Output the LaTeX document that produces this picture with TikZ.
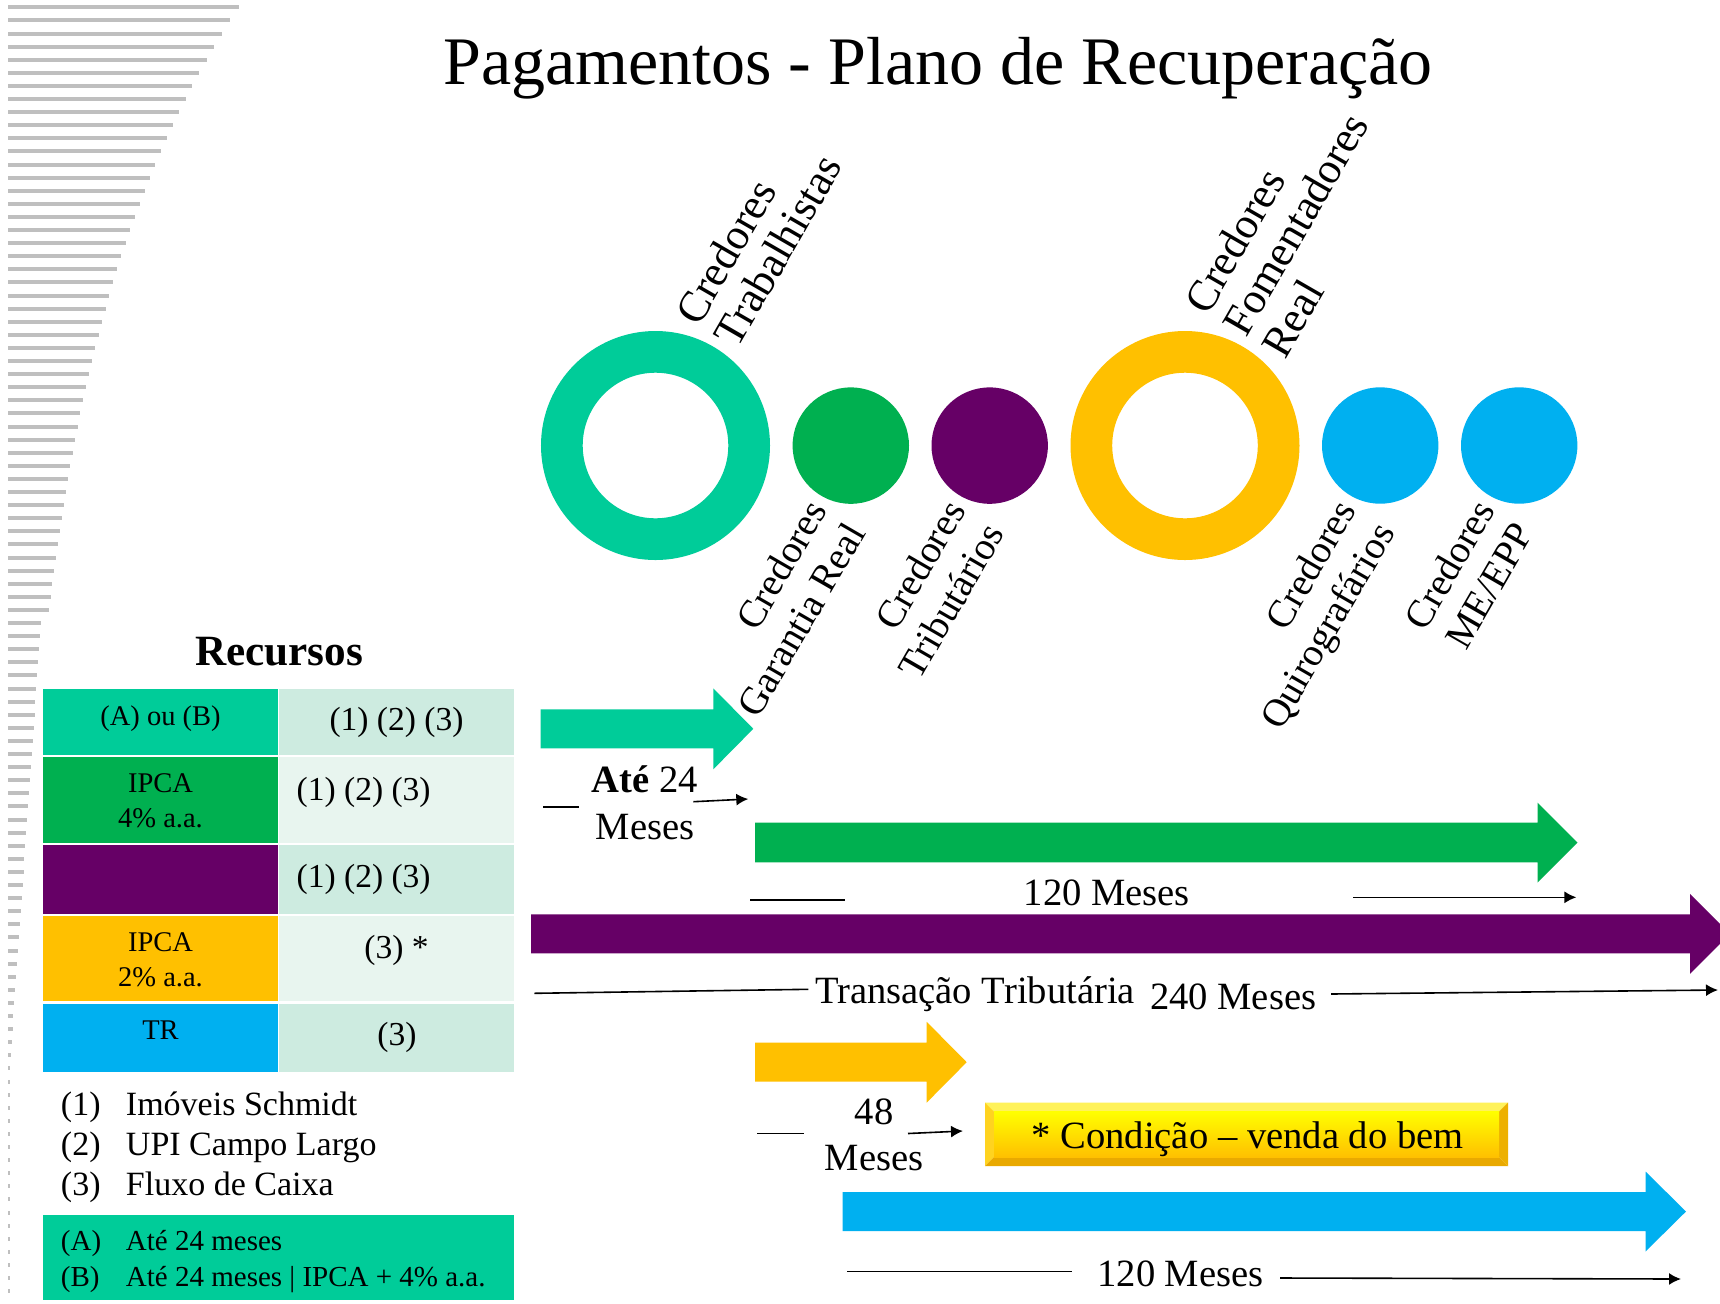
\documentclass[tikz,border=0pt]{standalone}
\usepackage{fontspec}
\setmainfont{Liberation Serif}
\usetikzlibrary{arrows.meta}
\definecolor{cteal}{HTML}{00CC99}
\definecolor{cgreen}{HTML}{00B050}
\definecolor{cpurple}{HTML}{660066}
\definecolor{cyellow}{HTML}{FFC000}
\definecolor{cblue}{HTML}{00B0F0}
\definecolor{cellA}{HTML}{CDEBE0}
\definecolor{cellB}{HTML}{E8F5EF}
\definecolor{stripegray}{HTML}{BFBFBF}
\definecolor{bevtop}{HTML}{FFF25A}
\definecolor{bevleft}{HTML}{FFD320}
\definecolor{bevright}{HTML}{EDB000}
\definecolor{bevbot}{HTML}{E9A900}
\newcommand{\myblockarrow}[7]{% color, x0, tip, yc, half body, half head, head length
  \fill[#1] (#2,{#4-#5}) -- ({#3-#7},{#4-#5}) -- ({#3-#7},{#4-#6}) -- (#3,#4)
    -- ({#3-#7},{#4+#6}) -- ({#3-#7},{#4+#5}) -- (#2,{#4+#5}) -- cycle;}
\begin{document}
\begin{tikzpicture}[x=0.5pt,y=-0.5pt,
  every node/.style={inner sep=0pt, outer sep=0pt},
  titletext/.style={font=\fontsize{34}{40}\selectfont},
  credlbl/.style={font=\fontsize{19.5}{22.3}\selectfont, rotate=60},
  credlblup/.style={font=\fontsize{21.8}{22.3}\selectfont, rotate=60},
  ringnode/.style={circle, minimum size=93.65pt, line width=20.85pt},
  dotnode/.style={circle, minimum size=58.2pt},
  cellL/.style={font=\fontsize{14.25}{17.5}\selectfont},
  cellR/.style={font=\fontsize{16.75}{20}\selectfont},
  listtext/.style={font=\fontsize{17}{20}\selectfont},
  abtext/.style={font=\fontsize{14.5}{17.75}\selectfont},
  arlbl/.style={font=\fontsize{19.3}{23.2}\selectfont},
  conn/.style={line width=0.8pt, black},
  connarrow/.style={conn, -{Latex[length=6pt,width=6pt]}},
  stripe/.style={fill=stripegray}
]
\useasboundingbox (0,0) rectangle (1720,1303);
\fill[white] (0,0) rectangle (1720,1303);

% decorative stripes
\foreach \i in {0,...,98}{
  \pgfmathsetmacro\yy{7.3+13.1*\i}
  \pgfmathsetmacro\ll{\i<47 ? 231*exp(-(\yy-7)/350) : max(33-(\yy-623)*0.07,1.5)}
  \fill[stripe] (8,{\yy-2}) rectangle ({8+\ll},{\yy+2});
}

% title
\node[titletext, anchor=base] (title) at (938,84) {Pagamentos - Plano de Recuperação};

% circles
\node[ringnode, draw=cteal] (trab) at (655.5,445.5) {};
\node[dotnode, fill=cgreen] (gar) at (850.8,445.6) {};
\node[dotnode, fill=cpurple] (trib) at (989.7,445.6) {};
\node[ringnode, draw=cyellow] (fom) at (1185,445.5) {};
\node[dotnode, fill=cblue] (quir) at (1380.2,445.5) {};
\node[dotnode, fill=cblue] (meepp) at (1519.2,445.5) {};

% circle labels
\node[credlblup, anchor=base west] (ltrab) at (699,327) {\begin{tabular}[t]{@{}l@{}}Credores\\Trabalhistas\end{tabular}};
\node[credlblup, anchor=base west] (lfom) at (1208,316) {\begin{tabular}[t]{@{}l@{}}Credores\\Fomentadores\\Real\end{tabular}};
\node[credlbl, anchor=base east] (lgar) at (827.8,510.7) {\begin{tabular}[t]{@{}r@{}}Credores\\Garantia Real\end{tabular}};
\node[credlbl, anchor=base east] (ltrib) at (966.7,510.7) {\begin{tabular}[t]{@{}r@{}}Credores\\Tributários\end{tabular}};
\node[credlbl, anchor=base east] (lquir) at (1357.2,510.5) {\begin{tabular}[t]{@{}r@{}}Credores\\Quirografários\end{tabular}};
\node[credlbl, anchor=base east] (lme) at (1496.2,510.5) {\begin{tabular}[t]{@{}r@{}}Credores\\ME/EPP\end{tabular}};

% Recursos table
\node[anchor=base, font=\bfseries\fontsize{21.6}{26}\selectfont] (rec) at (279,665) {Recursos};
\fill[cteal]   (43.3,689.3) rectangle (277.7,755.3);
\fill[cellA]   (279.3,689.3) rectangle (514,755.3);
\fill[cgreen]  (43.3,757.3) rectangle (277.7,843);
\fill[cellB]   (279.3,757.3) rectangle (514,843);
\fill[cpurple] (43.3,845) rectangle (277.7,914);
\fill[cellA]   (279.3,845) rectangle (514,914);
\fill[cyellow] (43.3,916) rectangle (277.7,1001);
\fill[cellB]   (279.3,916) rectangle (514,1001);
\fill[cblue]   (43.3,1003.7) rectangle (277.7,1072.3);
\fill[cellA]   (279.3,1003.7) rectangle (514,1072.3);

\node[cellL, anchor=base] (r1l) at (160.5,725) {(A) ou (B)};
\node[cellR, anchor=base] (r1r) at (396.5,730) {(1) (2) (3)};
\node[cellL, anchor=base] (r2l) at (160.5,792.7) {\begin{tabular}[t]{@{}c@{}}IPCA\\4\% a.a.\end{tabular}};
\node[cellR, anchor=base west] (r2r) at (296.7,800) {(1) (2) (3)};
\node[cellR, anchor=base west] (r3r) at (296.7,887.3) {(1) (2) (3)};
\node[cellL, anchor=base] (r4l) at (160.5,951.7) {\begin{tabular}[t]{@{}c@{}}IPCA\\2\% a.a.\end{tabular}};
\node[cellR, anchor=base] (r4r) at (396.5,958.3) {(3) *};
\node[cellL, anchor=base] (r5l) at (160.5,1039.3) {TR};
\node[cellR, anchor=base] (r5r) at (397,1045) {(3)};

% list
\node[listtext, anchor=base west] (li1) at (61,1115) {\makebox[32.5pt][l]{(1)}Imóveis Schmidt};
\node[listtext, anchor=base west] (li2) at (61,1155) {\makebox[32.5pt][l]{(2)}UPI Campo Largo};
\node[listtext, anchor=base west] (li3) at (61,1195.7) {\makebox[32.5pt][l]{(3)}Fluxo de Caixa};

% A/B box
\fill[cteal] (43.3,1215) rectangle (514,1300);
\node[abtext, anchor=base west] (ab1) at (61,1250.7) {\makebox[32.5pt][l]{(A)}Até 24 meses};
\node[abtext, anchor=base west] (ab2) at (61,1286) {\makebox[32.5pt][l]{(B)}Até 24 meses | IPCA + 4\% a.a.};

% block arrows
\myblockarrow{cteal}{540.7}{753.3}{728.8}{19.5}{40.5}{40}
\myblockarrow{cgreen}{755}{1577.5}{842.5}{19.8}{40}{40}
\myblockarrow{cpurple}{531}{1730}{933.8}{19.5}{40}{40}
\myblockarrow{cyellow}{755}{966.7}{1062.2}{19.5}{40.4}{40}
\myblockarrow{cblue}{842.5}{1686}{1211.5}{19.5}{40}{40.5}

% arrow labels
\node[arlbl, anchor=base] (l24) at (645,792.7) {\begin{tabular}[t]{@{}c@{}}{\bfseries Até} 24\\Meses\end{tabular}};
\node[arlbl, anchor=base] (l120a) at (1106.8,905) {120 Meses};
\node[arlbl, anchor=base west] (ltt) at (815,1003) {Transação Tributária};
\node[arlbl, anchor=base west] (l240) at (1150,1009) {240 Meses};
\node[arlbl, anchor=base] (l48) at (874,1124) {\begin{tabular}[t]{@{}c@{}}48\\Meses\end{tabular}};
\node[arlbl, anchor=base] (l120b) at (1180.5,1286) {120 Meses};

% condition box (bevel)
\fill[bevtop] (985,1102.5) -- (1508,1102.5) -- (1499,1111.5) -- (994,1111.5) -- cycle;
\fill[bevleft] (985,1102.5) -- (994,1111.5) -- (994,1157) -- (985,1166) -- cycle;
\fill[bevright] (1508,1102.5) -- (1508,1166) -- (1499,1157) -- (1499,1111.5) -- cycle;
\fill[bevbot] (985,1166) -- (994,1157) -- (1499,1157) -- (1508,1166) -- cycle;
\shade[top color=yellow, bottom color=cyellow] (994,1111.5) rectangle (1499,1157);
\node[arlbl, anchor=base] (cond) at (1247.5,1148.6) {* Condição – venda do bem};

% dimension lines
\coordinate (a1) at (543,806.7);   \coordinate (a2) at (578.7,806.7);
\coordinate (a3) at (693.3,801.7); \coordinate (a4) at (748.3,799);
\coordinate (b1) at (750,900);     \coordinate (b2) at (845,900);
\coordinate (b3) at (1353,897.3);  \coordinate (b4) at (1576.4,897.3);
\coordinate (c1) at (534.3,993.3); \coordinate (c2) at (808.3,989.3);
\coordinate (c3) at (1331,994);    \coordinate (c4) at (1718,990);
\coordinate (d1) at (757,1133.5);  \coordinate (d2) at (804,1133.5);
\coordinate (d3) at (908,1133.5);  \coordinate (d4) at (963,1131);
\coordinate (e1) at (847,1271.5);  \coordinate (e2) at (1072,1271.5);
\coordinate (e3) at (1280,1278);   \coordinate (e4) at (1681,1279);
\draw[conn] (a1) -- (a2);  \draw[connarrow] (a3) -- (a4);
\draw[conn] (b1) -- (b2);  \draw[connarrow] (b3) -- (b4);
\draw[conn] (c1) -- (c2);  \draw[connarrow] (c3) -- (c4);
\draw[conn] (d1) -- (d2);  \draw[connarrow] (d3) -- (d4);
\draw[conn] (e1) -- (e2);  \draw[connarrow] (e3) -- (e4);
\end{tikzpicture}
\end{document}
